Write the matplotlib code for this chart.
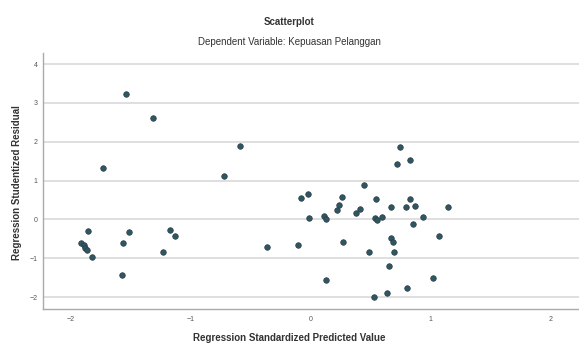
import matplotlib
matplotlib.use("Agg")
import matplotlib.pyplot as plt

plt.rcParams['font.family'] = ['Liberation Sans', 'DejaVu Sans']

# standardized predicted value vs studentized residual
pred = [-1.54, -1.31, -0.59, -1.73, -0.72, -1.85, -1.51, -1.17, -1.13, -1.56,
        -1.23, -1.57, -1.91, -1.89, -1.88, -1.86, -1.82,
        -0.08, -0.02, 0.26, 0.24, 0.22, -0.01, 0.11, 0.13, 0.38,
        -0.36, -0.10, 0.27, 0.13,
        0.75, 0.83, 0.72, 0.45, 0.55, 0.83, 0.67, 0.80, 0.87, 1.15,
        0.41, 0.54, 0.56, 0.60, 0.94, 0.86, 1.07, 0.67, 0.69, 0.49,
        0.70, 0.66, 1.02, 0.81, 0.64, 0.53]
resid = [3.24, 2.62, 1.89, 1.33, 1.12, -0.29, -0.32, -0.27, -0.42, -0.61,
         -0.83, -1.43, -0.61, -0.67, -0.73, -0.79, -0.96,
         0.55, 0.65, 0.58, 0.36, 0.23, 0.03, 0.08, 0.00, 0.16,
         -0.72, -0.66, -0.58, -1.55,
         1.86, 1.54, 1.43, 0.88, 0.52, 0.52, 0.32, 0.32, 0.34, 0.32,
         0.26, 0.03, -0.02, 0.06, 0.06, -0.13, -0.44, -0.47, -0.57, -0.83,
         -0.83, -1.20, -1.52, -1.77, -1.90, -1.99]

xticks = [-2, -1, 0, 1, 2]
yticks = [-2, -1, 0, 1, 2, 3, 4]

fig = plt.figure(figsize=(5.79, 3.45), dpi=100)
ax = fig.add_axes([0.074, 0.104, 0.926, 0.742])

ax.scatter(pred, resid, s=16, facecolor='#2c5866', edgecolor='#30383c',
           linewidth=0.5, zorder=3)

ax.set_xlim(-2.23, 2.24)
ax.set_ylim(-2.31, 4.28)
ax.set_xticks(xticks)
ax.set_yticks(yticks)
ax.tick_params(labelsize=5, colors='#555555', length=0)
ax.tick_params(axis='x', pad=5)
ax.tick_params(axis='y', pad=4)
ax.grid(axis='y', color='#d9d9d9', linewidth=1.2)
ax.set_axisbelow(True)

for side in ['top', 'right']:
    ax.spines[side].set_visible(False)
for side in ['left', 'bottom']:
    ax.spines[side].set_color('#aaaaaa')
    ax.spines[side].set_linewidth(1.0)

# axis titles placed like the SPSS layout
fig.text(0.5, 0.02, 'Regression Standardized Predicted Value', ha='center',
         va='center', fontsize=7, fontweight='bold', color='#333333')
fig.text(0.029, 0.47, 'Regression Studentized Residual', ha='center',
         va='center', rotation=90, fontsize=7, fontweight='bold',
         color='#333333')

fig.text(0.5, 0.937, 'Scatterplot', ha='center', va='center', fontsize=7,
         fontweight='bold', color='#333333')
fig.text(0.5, 0.878, 'Dependent Variable: Kepuasan Pelanggan', ha='center',
         va='center', fontsize=7, color='#333333')

fig.savefig('out.png', dpi=100)
